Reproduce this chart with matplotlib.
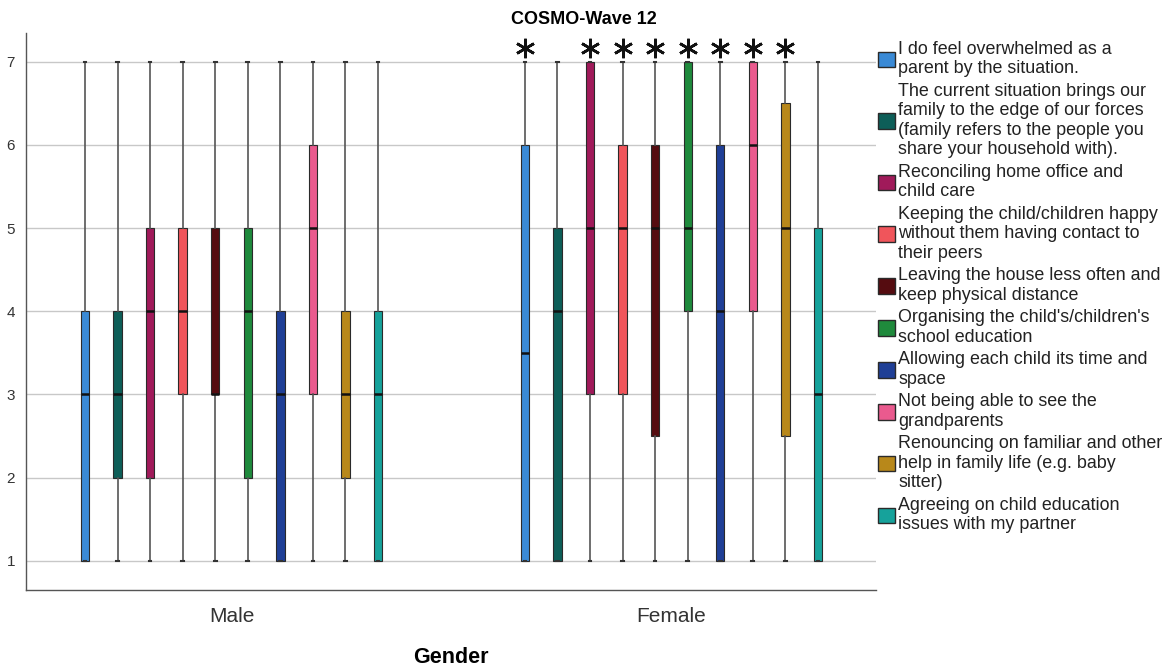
import matplotlib.pyplot as plt
from matplotlib.patches import Patch

plt.rcParams['font.family'] = ['Liberation Sans', 'DejaVu Sans']

# Items (legend order)
items = [
    "I do feel overwhelmed as a\nparent by the situation.",
    "The current situation brings our\nfamily to the edge of our forces\n(family refers to the people you\nshare your household with).",
    "Reconciling home office and\nchild care",
    "Keeping the child/children happy\nwithout them having contact to\ntheir peers",
    "Leaving the house less often and\nkeep physical distance",
    "Organising the child's/children's\nschool education",
    "Allowing each child its time and\nspace",
    "Not being able to see the\ngrandparents",
    "Renouncing on familiar and other\nhelp in family life (e.g. baby\nsitter)",
    "Agreeing on child education\nissues with my partner",
]
colors = ['#3a8ad6', '#0d5e58', '#a01a5a', '#f0555b', '#550c10',
          '#1f8a3c', '#1f3f96', '#ea5a8e', '#b8881a', '#16a29b']

genders = ['Male', 'Female']

# box stats per gender: q1, median, q3, whisker low, whisker high
male_q1 = [1, 2, 2, 3, 3, 2, 1, 3, 2, 1]
male_med = [3, 3, 4, 4, 3, 4, 3, 5, 3, 3]
male_q3 = [4, 4, 5, 5, 5, 5, 4, 6, 4, 4]
male_lo = [1, 1, 1, 1, 1, 1, 1, 1, 1, 1]
male_hi = [7, 7, 7, 7, 7, 7, 7, 7, 7, 7]

female_q1 = [1, 1, 3, 3, 2.5, 4, 1, 4, 2.5, 1]
female_med = [3.5, 4, 5, 5, 5, 5, 4, 6, 5, 3]
female_q3 = [6, 5, 7, 6, 6, 7, 6, 7, 6.5, 5]
female_lo = [1, 1, 1, 1, 1, 1, 1, 1, 1, 1]
female_hi = [7, 7, 7, 7, 7, 7, 7, 7, 7, 7]

# asterisk markers above the Female boxes
female_star = [1, 0, 1, 1, 1, 1, 1, 1, 1, 0]
star_y = 7.16

groups = [
    (male_q1, male_med, male_q3, male_lo, male_hi),
    (female_q1, female_med, female_q3, female_lo, female_hi),
]

fig = plt.figure(figsize=(11.68, 6.66), dpi=100)
ax = fig.add_axes([0.0223, 0.114, 0.7277, 0.836])

spacing = 0.074
width = 0.019
n = len(items)

for g, (q1, med, q3, lo, hi) in enumerate(groups):
    for i in range(n):
        pos = g + (i - (n - 1) / 2) * spacing
        stats = [dict(q1=q1[i], med=med[i], q3=q3[i], whislo=lo[i],
                      whishi=hi[i], fliers=[])]
        ax.bxp(stats, positions=[pos], widths=width, patch_artist=True,
               showfliers=False, capwidths=0.006,
               boxprops=dict(facecolor=colors[i], edgecolor='#2a2a2a', linewidth=0.8),
               medianprops=dict(color='#111111', linewidth=1.8),
               whiskerprops=dict(color='#555555', linewidth=1.2),
               capprops=dict(color='#333333', linewidth=1.5),
               zorder=3)
        if g == 1 and female_star[i]:
            ax.plot(pos, star_y, marker=(6, 2, 0), markersize=14,
                    markeredgewidth=1.9, color='#111111', zorder=4)

ax.set_xlim(-0.467, 1.465)
ax.set_ylim(0.65, 7.34)
ax.set_yticks(range(1, 8))
ax.set_xticks([0, 1])
ax.set_xticklabels(genders, fontsize=15, color='#333333')
ax.tick_params(axis='y', length=0, labelsize=11, labelcolor='#333333', pad=8)
ax.tick_params(axis='x', length=0, pad=12)
ax.yaxis.grid(True, color='#c8c8c8', linewidth=1)
ax.set_axisbelow(True)
for s in ['top', 'right']:
    ax.spines[s].set_visible(False)
for s in ['left', 'bottom']:
    ax.spines[s].set_color('#555555')
    ax.spines[s].set_linewidth(1)

ax.set_xlabel('Gender', fontsize=15.5, fontweight='bold', labelpad=15)
fig.text(0.5, 0.97, 'COSMO-Wave 12', ha='center', va='center',
         fontsize=13, fontweight='bold')

handles = [Patch(facecolor=c, edgecolor='#2a2a2a', linewidth=1) for c in colors]
leg = ax.legend(handles, items, loc='upper left', bbox_to_anchor=(1.0, 0.99),
                frameon=False, fontsize=12.9, handlelength=0.95, handleheight=0.95,
                handletextpad=0.2, labelspacing=0.3, borderaxespad=0.1,
                borderpad=0.0)
for t in leg.get_texts():
    t.set_linespacing(1.2)
    t.set_color('#222222')

fig.savefig('out.png', dpi=100)
